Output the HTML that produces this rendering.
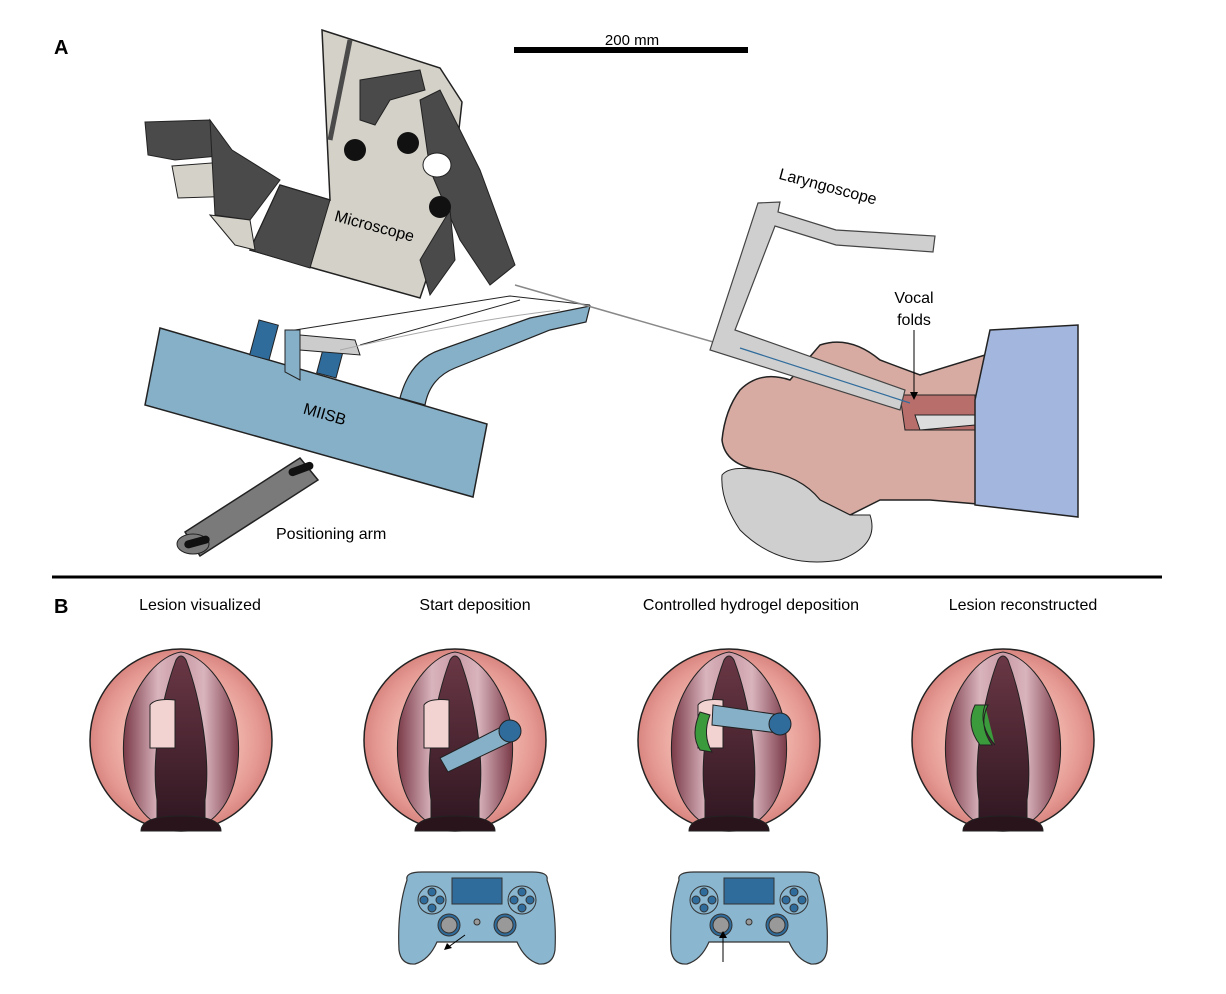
<!DOCTYPE html>
<html><head><meta charset="utf-8"><style>
html,body{margin:0;padding:0;background:#fff}
svg{display:block}
text{font-family:"Liberation Sans",sans-serif}
</style></head><body>
<svg width="1226" height="994" viewBox="0 0 1226 994" xmlns="http://www.w3.org/2000/svg">
<defs>
<radialGradient id="pk" cx="50%" cy="50%" r="50%">
<stop offset="0.55" stop-color="#f2b9b0"/><stop offset="0.85" stop-color="#e59a93"/><stop offset="1" stop-color="#d98580"/>
</radialGradient>
<linearGradient id="mv" x1="0" x2="1">
<stop offset="0" stop-color="#7a3a48"/><stop offset="0.3" stop-color="#d9b4bd"/><stop offset="0.5" stop-color="#c99aa5"/><stop offset="0.7" stop-color="#d9b4bd"/><stop offset="1" stop-color="#7a3a48"/>
</linearGradient>
<linearGradient id="dk" x1="0" y1="0" x2="0" y2="1">
<stop offset="0" stop-color="#6a3745"/><stop offset="1" stop-color="#2e1620"/>
</linearGradient>
<g id="vf">
<circle r="91" fill="url(#pk)" stroke="#222" stroke-width="1.5"/>
<path d="M-30,80 C-55,60 -62,20 -55,-20 C-45,-60 -20,-85 0,-88 C20,-85 45,-60 55,-20 C62,20 55,60 30,80 Z" fill="url(#mv)" stroke="#222" stroke-width="1"/>
<path d="M-24,90 L-24,60 C-30,20 -20,-40 -5,-80 Q0,-88 5,-80 C20,-40 30,20 24,60 L24,90 Z" fill="url(#dk)" stroke="#222"/>
<path d="M-40,91 Q-40,76 0,76 Q40,76 40,91 Z" fill="#2a141c" stroke="#222"/>
</g>
<g id="pad">
<path d="M-70,-40 Q-72,-48 -55,-48 L55,-48 Q72,-48 70,-40 Q80,-10 78,30 Q76,45 62,44 Q48,40 40,22 L-40,22 Q-48,40 -62,44 Q-76,45 -78,30 Q-80,-10 -70,-40Z" fill="#8ab6cf" stroke="#333" stroke-width="1.2"/>
<rect x="-25" y="-42" width="50" height="26" fill="#2f6c9c" stroke="#333"/>
<circle cx="-45" cy="-20" r="14" fill="#8ab6cf" stroke="#333"/>
<circle cx="45" cy="-20" r="14" fill="#8ab6cf" stroke="#333"/>
<circle cx="-45" cy="-28" r="4" fill="#2f6c9c" stroke="#333"/><circle cx="-45" cy="-12" r="4" fill="#2f6c9c" stroke="#333"/><circle cx="-53" cy="-20" r="4" fill="#2f6c9c" stroke="#333"/><circle cx="-37" cy="-20" r="4" fill="#2f6c9c" stroke="#333"/>
<circle cx="45" cy="-28" r="4" fill="#2f6c9c" stroke="#333"/><circle cx="45" cy="-12" r="4" fill="#2f6c9c" stroke="#333"/><circle cx="37" cy="-20" r="4" fill="#2f6c9c" stroke="#333"/><circle cx="53" cy="-20" r="4" fill="#2f6c9c" stroke="#333"/>
<circle cx="-28" cy="5" r="11" fill="#2f6c9c" stroke="#333"/><circle cx="-28" cy="5" r="8" fill="#999" stroke="#333"/>
<circle cx="28" cy="5" r="11" fill="#2f6c9c" stroke="#333"/><circle cx="28" cy="5" r="8" fill="#999" stroke="#333"/>
<circle cx="0" cy="2" r="3" fill="#999" stroke="#333"/>
</g>
</defs>

<text x="54" y="54" font-size="20" font-weight="bold">A</text>
<text x="54" y="613" font-size="20" font-weight="bold">B</text>
<rect x="514" y="47" width="234" height="6" fill="#000"/>
<text x="632" y="45" font-size="15" text-anchor="middle">200 mm</text>
<line x1="52" y1="577" x2="1162" y2="577" stroke="#000" stroke-width="3"/>

<!-- positioning arm -->
<path d="M185,532 L300,458 L318,480 L200,556 Z" fill="#7a7a7a" stroke="#222" stroke-width="1.5"/>
<ellipse cx="193" cy="544" rx="16" ry="10" fill="#7a7a7a" stroke="#222"/>
<rect x="184" y="538" width="26" height="8" rx="4" fill="#111" transform="rotate(-15 197 542)"/>
<rect x="288" y="465" width="26" height="8" rx="4" fill="#111" transform="rotate(-20 301 469)"/>
<text x="276" y="539" font-size="16">Positioning arm</text>

<!-- MIISB -->
<polygon points="160,328 487,424 473,497 145,405" fill="#86b0c8" stroke="#222" stroke-width="1.5"/>
<text x="302" y="420" font-size="16" transform="rotate(16 326 418)">MIISB</text>
<path d="M400,398 Q410,360 440,350 L530,318 L590,306 L586,322 L550,330 L455,368 Q430,378 425,405 Z" fill="#86b0c8" stroke="#222" stroke-width="1.2"/>
<rect x="254" y="322" width="20" height="36" fill="#2f6c9c" stroke="#222" transform="rotate(15 264 340)"/>
<rect x="321" y="340" width="20" height="36" fill="#2f6c9c" stroke="#222" transform="rotate(15 331 358)"/>
<path d="M285,330 L300,330 L300,380 L285,372Z" fill="#86b0c8" stroke="#222"/>
<path d="M300,335 L355,340 L360,355 L300,350 Z" fill="#ccc" stroke="#222"/>
<path d="M295,330 L510,296 L590,305 M360,345 L520,300" fill="none" stroke="#222"/>
<path d="M340,350 Q470,320 560,310" fill="none" stroke="#aaa"/>
<line x1="515" y1="285" x2="915" y2="400" stroke="#888" stroke-width="1.5"/>

<!-- microscope -->
<path d="M145,122 L210,120 L230,155 L175,160 L148,155 Z" fill="#4a4a4a" stroke="#222"/>
<path d="M172,166 L225,162 L240,196 L178,198 Z" fill="#d4d1c8" stroke="#222"/>
<path d="M210,120 L232,150 L280,180 L250,220 L215,215 Z" fill="#4a4a4a" stroke="#222"/>
<path d="M322,30 L440,68 L462,102 L450,210 L420,298 L320,270 L250,250 L280,185 L330,200 Z" fill="#d4d1c8" stroke="#222" stroke-width="1.5"/>
<path d="M250,250 L280,185 L330,200 L310,268 Z" fill="#4a4a4a" stroke="#222"/>
<path d="M210,215 L250,220 L255,250 L235,245 Z" fill="#d4d1c8" stroke="#222"/>
<path d="M420,100 L440,90 L460,130 L480,170 L515,265 L490,285 L460,240 L430,170 Z" fill="#4a4a4a" stroke="#222"/>
<path d="M360,80 L420,70 L425,90 L390,100 L375,125 L360,120 Z" fill="#4a4a4a" stroke="#222"/>
<path d="M420,260 L450,210 L455,260 L430,295 Z" fill="#4a4a4a" stroke="#222"/>
<line x1="350" y1="40" x2="330" y2="140" stroke="#4a4a4a" stroke-width="5"/>
<circle cx="355" cy="150" r="11" fill="#111"/><circle cx="408" cy="143" r="11" fill="#111"/><circle cx="440" cy="207" r="11" fill="#111"/>
<ellipse cx="437" cy="165" rx="14" ry="12" fill="#fff" stroke="#222"/>
<text x="330" y="232" font-size="16" transform="rotate(15 375 240)">Microscope</text>

<!-- patient -->
<path d="M740,390 Q760,370 790,380 L820,345 Q850,335 880,360 L920,375 L985,355 L990,505 L930,500 L880,500 L850,515 L820,500 Q800,475 760,470 Q725,465 722,440 Q725,410 740,390 Z" fill="#d7aba2" stroke="#222" stroke-width="1.5"/>
<path d="M900,395 L975,395 L975,430 L905,430 Z" fill="#b86f6c" stroke="#222"/>
<path d="M915,415 L975,415 L975,425 L920,430 Z" fill="#ddd" stroke="#222"/>
<path d="M722,475 Q730,465 760,470 Q800,475 820,500 L850,515 L870,515 Q880,545 840,560 Q780,570 740,530 Q720,500 722,475 Z" fill="#cfcfcf" stroke="#222"/>
<path d="M990,330 L1078,325 L1078,517 L975,505 L975,400 Z" fill="#a3b6dd" stroke="#222" stroke-width="1.5"/>
<path d="M758,203 L780,202 L778,212 L836,230 L935,236 L933,252 L836,245 L775,226 L735,330 L905,390 L900,410 L710,350 Z" fill="#cfcfcf" stroke="#444" stroke-width="1.2"/>
<line x1="740" y1="348" x2="910" y2="403" stroke="#2f6c9c" stroke-width="1.2"/>
<text x="773" y="193" font-size="16" transform="rotate(15 830 205)">Laryngoscope</text>
<text x="914" y="303" font-size="16" text-anchor="middle">Vocal</text>
<text x="914" y="325" font-size="16" text-anchor="middle">folds</text>
<line x1="914" y1="330" x2="914" y2="395" stroke="#000"/>
<path d="M910,392 L918,392 L914,400Z"/>

<!-- B panels -->
<text x="200" y="610" font-size="16" text-anchor="middle">Lesion visualized</text>
<text x="475" y="610" font-size="16" text-anchor="middle">Start deposition</text>
<text x="751" y="610" font-size="16" text-anchor="middle">Controlled hydrogel deposition</text>
<text x="1023" y="610" font-size="16" text-anchor="middle">Lesion reconstructed</text>

<use href="#vf" x="181" y="740"/>
<use href="#vf" x="455" y="740"/>
<use href="#vf" x="729" y="740"/>
<use href="#vf" x="1003" y="740"/>
<path d="M150,705 Q155,698 175,700 L175,748 L150,748 Z" fill="#f2d3d1" stroke="#222"/>
<path d="M424,705 Q429,698 449,700 L449,748 L424,748 Z" fill="#f2d3d1" stroke="#222"/>
<path d="M698,705 Q703,698 723,700 L723,748 L698,748 Z" fill="#f2d3d1" stroke="#222"/>
<path d="M440,758 L505,725 L515,740 L448,772 Z" fill="#86b0c8" stroke="#222"/>
<circle cx="510" cy="731" r="11" fill="#2f6c9c" stroke="#222"/>
<path d="M713,705 L780,715 L778,733 L712,725 Z" fill="#86b0c8" stroke="#222"/>
<circle cx="780" cy="724" r="11" fill="#2f6c9c" stroke="#222"/>
<path d="M700,712 Q690,735 700,750 L712,752 Q702,735 710,715Z" fill="#3b9a3b" stroke="#222"/>
<path d="M975,705 Q965,725 980,745 L992,745 Q978,725 988,705 Z M985,705 Q978,725 995,745" fill="#3b9a3b" stroke="#222"/>

<use href="#pad" x="477" y="920"/>
<use href="#pad" x="749" y="920"/>
<line x1="465" y1="935" x2="447" y2="948" stroke="#000"/><path d="M444,950 L447,943 L452,948Z"/>
<line x1="723" y1="935" x2="723" y2="962" stroke="#000"/><path d="M719,938 L727,938 L723,931Z"/>
</svg>
</body></html>
